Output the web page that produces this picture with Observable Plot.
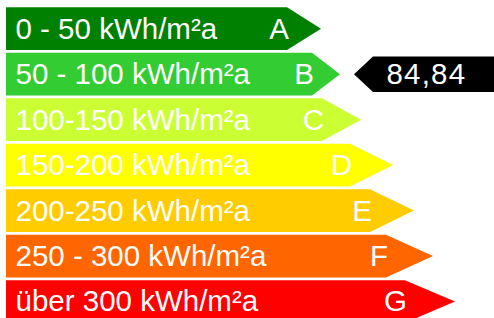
<!DOCTYPE html>
<html><head><meta charset="utf-8">
<script src="https://cdn.jsdelivr.net/npm/d3@7"></script>
<script src="https://cdn.jsdelivr.net/npm/@observablehq/plot@0.6"></script>
<style>body{margin:0;background:#fff;overflow:hidden}
.energy g[aria-label="text"]:last-of-type text{letter-spacing:1.2px}</style>
</head><body><div id="chart"></div>
<script>
// Energy classes (top to bottom)
const classes = ["A", "B", "C", "D", "E", "F", "G"];
const rangeLabels = ["0 - 50 kWh/m²a", "50 - 100 kWh/m²a", "100-150 kWh/m²a", "150-200 kWh/m²a", "200-250 kWh/m²a", "250 - 300 kWh/m²a", "über 300 kWh/m²a"];
// arrow body length and arrow tip length per class (x units)
const bodyLength = [281, 306, 316, 344, 364, 380, 399];
const tipLength = [315, 334, 355, 387, 408, 427, 449];
const classColors = ["#008000", "#33cc33", "#ccff33", "#ffff00", "#ffcc00", "#ff6600", "#ff0000"];
// current value marker
const markerClass = "B";
const markerValue = "84,84";
const markerTip = 348;
const markerBody = 367;
const markerEnd = 520;

const BAR_HALF = 0.47, MARK_HALF = 0.39;
const rows = classes.map((c, i) => ({c, i, label: rangeLabels[i], body: bodyLength[i], tip: tipLength[i], color: classColors[i]}));
const arrows = rows.flatMap(r => [
  {c: r.c, y: r.i - BAR_HALF, x2: r.body, fill: r.color},
  {c: r.c, y: r.i, x2: r.tip, fill: r.color},
  {c: r.c, y: r.i + BAR_HALF, x2: r.body, fill: r.color}
]);
const mi = classes.indexOf(markerClass);
const marker = [
  {y: mi - MARK_HALF, x1: markerBody},
  {y: mi, x1: markerTip},
  {y: mi + MARK_HALF, x1: markerBody}
];
const font = "'Liberation Sans', Arial, sans-serif";

const chart = Plot.plot({
  className: "energy",
  width: 494,
  height: 318,
  margin: 0,
  style: {background: "white", fontFamily: font},
  x: {domain: [0, 488], range: [6, 494], axis: null},
  y: {domain: [-0.5, 6.5], range: [5.97, 324.25], axis: null},
  color: {type: "identity"},
  marks: [
    Plot.areaX(arrows, {y: "y", x1: 0, x2: "x2", z: "c", fill: "fill"}),
    Plot.areaX(marker, {y: "y", x1: "x1", x2: markerEnd, fill: "black"}),
    Plot.text(rows, {x: 0, y: "i", text: "label", dx: 9, textAnchor: "start", fill: "white", fontSize: 29.5, fontFamily: font}),
    Plot.text(rows, {x: "body", y: "i", text: "c", dx: 1.5, textAnchor: "end", fill: "white", fontSize: 29.5, fontFamily: font}),
    Plot.text([{x: markerBody, y: mi, t: markerValue}], {x: "x", y: "y", text: "t", dx: 13, textAnchor: "start", fill: "white", fontSize: 29.5, fontFamily: font})
  ]
});
document.getElementById("chart").appendChild(chart);
</script>
</body></html>
